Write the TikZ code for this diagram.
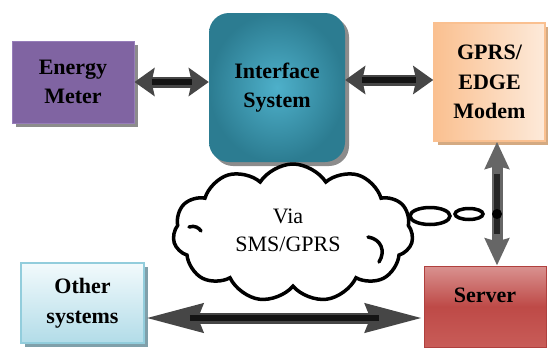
\documentclass[tikz,border=0pt]{standalone}
\usepackage{fontspec}
\setmainfont{Liberation Serif}
\usetikzlibrary{shapes.symbols,shapes.geometric,shadows,arrows.meta,calc}
\definecolor{empurple}{RGB}{128,100,162}
\definecolor{emborder}{RGB}{150,125,185}
\definecolor{isin}{RGB}{78,176,202}
\definecolor{isout}{RGB}{44,124,145}
\definecolor{gplight}{RGB}{253,234,218}
\definecolor{gpdark}{RGB}{250,192,144}
\definecolor{gpshadow}{RGB}{212,170,130}
\definecolor{svtop}{RGB}{217,146,144}
\definecolor{svmid}{RGB}{190,74,71}
\definecolor{svbot}{RGB}{200,92,88}
\definecolor{svborder}{RGB}{176,64,62}
\definecolor{ostop}{RGB}{242,250,252}
\definecolor{osbot}{RGB}{178,220,232}
\definecolor{osborder}{RGB}{146,205,220}
\definecolor{osshadow}{RGB}{128,160,170}
\definecolor{shadowgray}{RGB}{140,140,140}
\definecolor{arrowgray}{RGB}{70,70,70}
\begin{document}
\begin{tikzpicture}[x=1pt,y=-1pt,
  boxtext/.style={font=\fontsize{22}{29.5}\selectfont\bfseries, align=center, inner sep=0pt},
  boxshadow/.style={drop shadow={shadow xshift=4pt, shadow yshift=-4pt, fill=#1, opacity=1}},
  harrow/.style={line width=11pt, draw=arrowgray, >={Stealth[length=20pt,width=28pt,inset=3pt]}, <->},
  hcore/.style={line width=6pt, draw=black!92, shorten <=17pt, shorten >=17pt},
]
\useasboundingbox (0,0) rectangle (548,349);

% boxes
\node[boxtext, rectangle, minimum width=122pt, minimum height=82pt,
      fill=empurple, draw=emborder, line width=1pt, boxshadow=shadowgray]
      (em) at (73,82) {Energy\\Meter};
\node[boxtext, rectangle, rounded corners=20pt, minimum width=136pt, minimum height=149pt,
      inner color=isin, outer color=isout, boxshadow=shadowgray]
      (is) at (277,87.5) {Interface\\System};
\node[boxtext, rectangle, minimum width=111pt, minimum height=118pt,
      left color=gpdark, right color=gplight, draw=gpdark, line width=1.5pt, boxshadow=gpshadow]
      (gp) at (489.5,82) {GPRS/\\EDGE\\Modem};
\node[rectangle, minimum width=122pt, minimum height=81pt,
      top color=svtop, bottom color=svbot, middle color=svmid, draw=svborder, line width=1pt]
      (sv) at (485,306.5) {};
\node[boxtext] (svtext) at (485,295) {Server};
\node[boxtext, rectangle, minimum width=123pt, minimum height=80pt,
      top color=ostop, bottom color=osbot, draw=osborder, line width=1.5pt, boxshadow=osshadow]
      (os) at (82.5,303) {Other\\systems};

% cloud
\node[cloud, draw=black, fill=white, line width=3.5pt, cloud puffs=11, cloud puff arc=115,
      aspect=1.75, minimum width=240pt, minimum height=138pt, inner sep=0pt]
      (cl) at (293,233) {};
\node[font=\fontsize{22}{28}\selectfont, align=center, inner sep=0pt] (cltext) at (288,230) {Via\\SMS/GPRS};
\draw[line width=3.5pt, line cap=round] ([shift={(75,4)}]cl.center) .. controls ([shift={(88,6)}]cl.center) and ([shift={(93,18)}]cl.center) .. ([shift={(86,29)}]cl.center);
\draw[line width=3.5pt, line cap=round] ([shift={(-104,-6)}]cl.center) .. controls ([shift={(-98,-8)}]cl.center) and ([shift={(-94,-5)}]cl.center) .. ([shift={(-92,-2)}]cl.center);

% thought bubbles
\node[ellipse, draw=black, line width=3.5pt, minimum width=40pt, minimum height=17pt, inner sep=0pt] (b1) at (430,216) {};
\node[ellipse, draw=black, line width=3.5pt, minimum width=28pt, minimum height=11pt, inner sep=0pt] (b2) at (469,214) {};

% arrows
\draw[harrow] (em.east) -- (em.east -| is.west);
\draw[hcore] (em.east) -- (em.east -| is.west);
\draw[harrow] ([yshift=2pt]gp.west -| is.east) -- ([yshift=2pt]gp.west);
\draw[hcore] ([yshift=2pt]gp.west -| is.east) -- ([yshift=2pt]gp.west);

\draw[line width=11pt, draw=black!60, >={Stealth[length=27pt,width=24pt,inset=3pt]}, <->]
  ([xshift=7.5pt]gp.south) -- ([xshift=7.5pt]gp.south |- sv.north);
\draw[line width=6pt, draw=black!85, shorten <=32pt, shorten >=32pt]
  ([xshift=7.5pt]gp.south) -- ([xshift=7.5pt]gp.south |- sv.north);

\draw[line width=11pt, draw=arrowgray, >={Stealth[length=57pt,width=27pt,inset=4pt]}, <->]
  ([yshift=-15pt]os.east) -- ([yshift=-15pt]os.east -| sv.west);
\draw[line width=6pt, draw=black!92, shorten <=45pt, shorten >=45pt]
  ([yshift=-15pt]os.east) -- ([yshift=-15pt]os.east -| sv.west);

\fill[black] ([xshift=7.5pt]gp.south |- b2.center) circle (5pt) coordinate (dot);
\end{tikzpicture}
\end{document}
